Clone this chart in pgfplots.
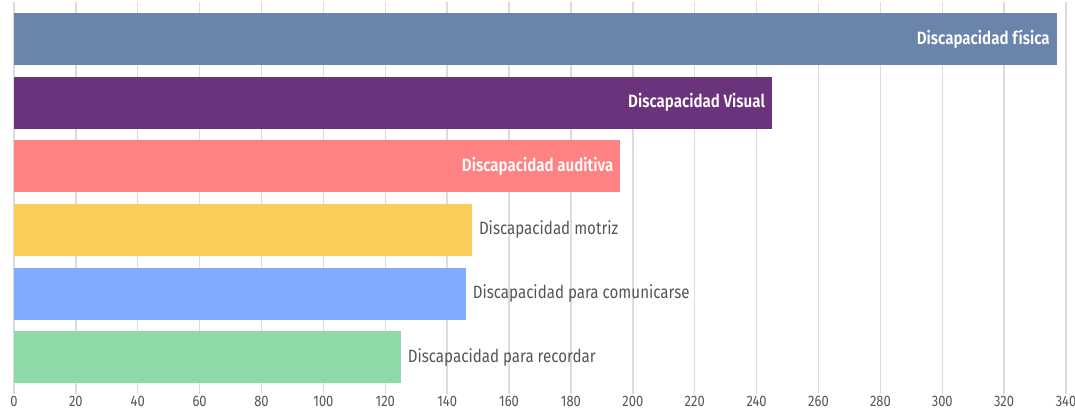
\documentclass[border=0pt]{standalone}
\usepackage{fontspec}
\setmainfont{Fira Sans}[FakeStretch=0.85, BoldFont={Fira Sans SemiBold}]
\usepackage{pgfplots}
\pgfplotsset{compat=1.18}
\definecolor{cFis}{HTML}{6A84AC}
\definecolor{cVis}{HTML}{6B337B}
\definecolor{cAud}{HTML}{FF8282}
\definecolor{cMot}{HTML}{FBCE5B}
\definecolor{cCom}{HTML}{80ABFF}
\definecolor{cRec}{HTML}{8FD9A8}
\definecolor{cTxt}{HTML}{555555}
\definecolor{cGrid}{HTML}{DCDCDC}
\begin{document}
\begin{tikzpicture}
\begin{axis}[
  name=ax,
  scale only axis,
  width=526pt, height=191pt,
  xbar, bar width=26pt, bar shift=0pt,
  xmin=0, xmax=340, ymin=-0.5, ymax=5.5,
  xtick={0,20,...,340},
  ytick=\empty,
  axis line style={draw=none},
  xmajorgrids, grid style={draw=cGrid, line width=0.7pt},
  tick align=outside, major tick length=2.5pt,
  xtick style={draw=cGrid, line width=0.7pt},
  x tick label style={font=\fontsize{7.6}{8}\selectfont, text=cTxt, inner sep=0.8pt},
  /pgf/number format/assume math mode=true,
  inlbl/.style={nodes near coords style={anchor=east, text=white, font=\fontsize{8.9}{10}\selectfont\bfseries}},
  outlbl/.style={nodes near coords style={anchor=west, text=cTxt, font=\fontsize{8.9}{10}\selectfont}},
]
\addplot[fill=cFis, draw=none, inlbl, nodes near coords={Discapacidad física}] coordinates {(337,5)};
\addplot[fill=cVis, draw=none, inlbl, nodes near coords={Discapacidad Visual}] coordinates {(245,4)};
\addplot[fill=cAud, draw=none, inlbl, nodes near coords={Discapacidad auditiva}] coordinates {(196,3)};
\addplot[fill=cMot, draw=none, outlbl, nodes near coords={Discapacidad motriz}] coordinates {(148,2)};
\addplot[fill=cCom, draw=none, outlbl, nodes near coords={Discapacidad para comunicarse}] coordinates {(146,1)};
\addplot[fill=cRec, draw=none, outlbl, nodes near coords={Discapacidad para recordar}] coordinates {(125,0)};
\end{axis}
\pgfresetboundingbox
\path[use as bounding box] ([xshift=-7pt,yshift=-9.5pt]ax.south west) rectangle ++(537.5pt,204pt);
\end{tikzpicture}
\end{document}
